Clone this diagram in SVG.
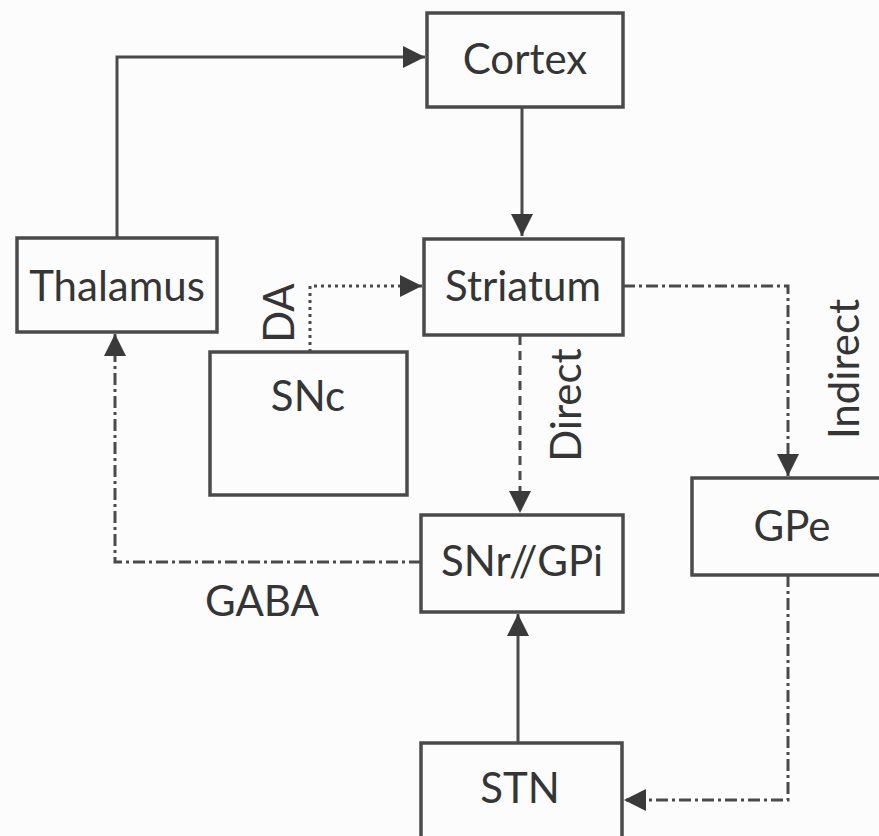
<svg xmlns="http://www.w3.org/2000/svg" width="879" height="836" viewBox="0 0 879 836">
  <defs>
    <marker id="arr" markerUnits="userSpaceOnUse" markerWidth="24" markerHeight="22" refX="22" refY="11" orient="auto">
      <path d="M0,0 L22,11 L0,22 Z" fill="#3a3a3a"/>
    </marker>
    <style>
      .box { fill: none; stroke: #4a4a4a; stroke-width: 3.5; }
      .lbl { font-family: "Lato", "Liberation Sans", sans-serif; font-size: 42px; fill: #353535; text-anchor: middle; }
      .edge { fill: none; stroke: #4a4a4a; stroke-width: 3; }
      .dot { stroke-dasharray: 3 4; }
      .dash { stroke-dasharray: 9 6; }
      .dashdot { stroke-dasharray: 12 4 3 4; }
    </style>
  </defs>
  <rect width="879" height="836" fill="#fcfcfc"/>

  <g id="connectors">
    <path class="edge" d="M117,238 L117,57 L425,57" marker-end="url(#arr)"/>
    <path class="edge" d="M522,107 L522,236" marker-end="url(#arr)"/>
    <path class="edge dot" d="M310,352 L310,286 L422,286" marker-end="url(#arr)"/>
    <path class="edge dash" d="M520,336 L520,513" marker-end="url(#arr)"/>
    <path class="edge dashdot" d="M623,286 L788,286 L788,476" marker-end="url(#arr)"/>
    <path class="edge dashdot" d="M421,562 L115,562 L115,334" marker-end="url(#arr)"/>
    <path class="edge" d="M518,743 L518,614" marker-end="url(#arr)"/>
    <path class="edge dashdot" d="M788,575 L788,800 L624,800" marker-end="url(#arr)"/>
  </g>

  <g id="cortex">
    <rect class="box" x="427" y="13" width="196" height="94"/>
    <text class="lbl" x="525" y="74">Cortex</text>
  </g>
  <g id="thalamus">
    <rect class="box" x="17" y="238" width="200" height="94"/>
    <text class="lbl" x="117" y="301">Thalamus</text>
  </g>
  <g id="striatum">
    <rect class="box" x="424" y="239" width="199" height="96"/>
    <text class="lbl" x="523" y="301">Striatum</text>
  </g>
  <g id="snc">
    <rect class="box" x="210" y="352" width="197" height="143"/>
    <text class="lbl" x="308" y="411">SNc</text>
  </g>
  <g id="snr-gpi">
    <rect class="box" x="421" y="515" width="202" height="97"/>
    <text class="lbl" x="522" y="576">SNr//GPi</text>
  </g>
  <g id="gpe">
    <rect class="box" x="692" y="478" width="200" height="97"/>
    <text class="lbl" x="792" y="541">GPe</text>
  </g>
  <g id="stn">
    <rect class="box" x="421" y="743" width="201" height="110"/>
    <text class="lbl" x="520" y="803">STN</text>
  </g>

  <g id="labels">
    <text class="lbl" x="262" y="616">GABA</text>
    <text class="lbl" transform="translate(294,313) rotate(-90)">DA</text>
    <text class="lbl" transform="translate(581,405) rotate(-90)">Direct</text>
    <text class="lbl" transform="translate(859,369) rotate(-90)">Indirect</text>
  </g>
</svg>
